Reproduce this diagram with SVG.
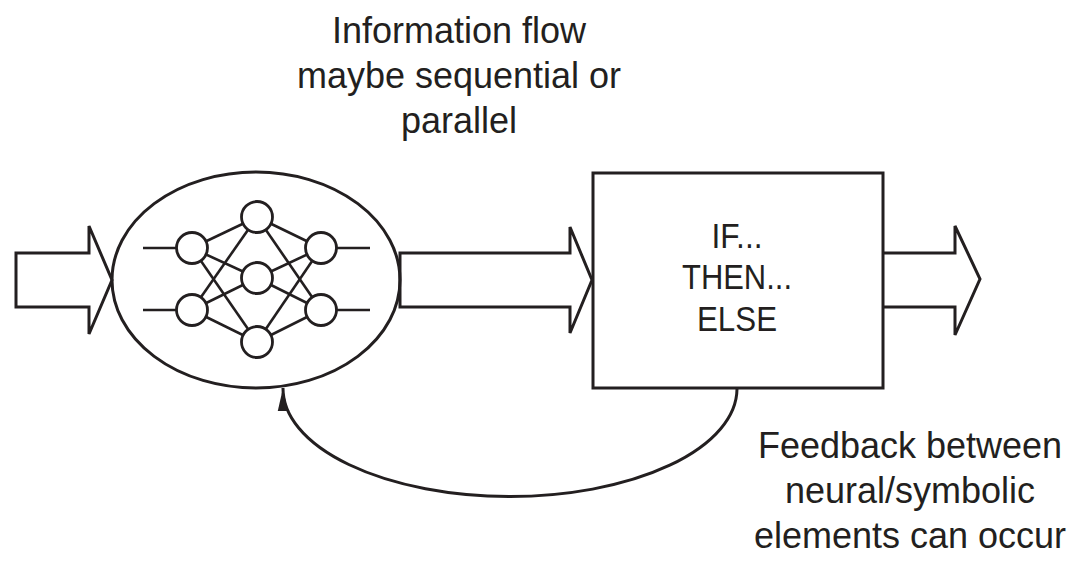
<svg xmlns="http://www.w3.org/2000/svg" width="1075" height="563" viewBox="0 0 1075 563">
<style>
.ln{fill:none;stroke:#231f20;stroke-width:3;stroke-linejoin:miter}
.nl{stroke:#231f20;stroke-width:2.6;fill:none}
.nc{fill:#fff;stroke:#231f20;stroke-width:2.8}
.bx{fill:#fff;stroke:#231f20;stroke-width:3}
.tx{font-family:"Liberation Sans",Arial,sans-serif;font-size:36px;fill:#231f20;text-anchor:middle}
.bt{font-family:"Liberation Sans",Arial,sans-serif;font-size:35px;fill:#231f20;text-anchor:middle}
</style>
<defs>
<marker id="ah" markerUnits="userSpaceOnUse" markerWidth="26" markerHeight="14" refX="23" refY="7" orient="auto">
<path d="M0,2 L23,7 L0,12 Z" fill="#231f20"/>
</marker>
</defs>
<rect width="1075" height="563" fill="#fff"/>

<g id="connectors">
<path id="arrow-in" class="ln" d="M16,253 L89,253 L89,226 L112,280 L89,334 L89,307 L16,307 Z"/>
<path id="arrow-mid" class="ln" d="M400,253 L570,253 L570,227 L592,280 L570,333 L570,307 L400,307 Z"/>
<path id="arrow-out" class="ln" d="M883,253 L955,253 L955,226 L980,279 L955,335 L955,307 L883,307"/>
<path id="feedback" class="ln" d="M737,389 A227,108 0 0 1 283,388" marker-end="url(#ah)"/>
</g>

<g id="neural">
<ellipse class="ln" cx="256" cy="280" rx="144" ry="108"/>
<g id="net-links">
<line class="nl" x1="143" y1="248" x2="192" y2="248"/>
<line class="nl" x1="143" y1="310" x2="192" y2="310"/>
<line class="nl" x1="321" y1="248" x2="370" y2="248"/>
<line class="nl" x1="321" y1="310" x2="370" y2="310"/>
<line class="nl" x1="192" y1="248" x2="257" y2="217"/>
<line class="nl" x1="192" y1="248" x2="257" y2="278"/>
<line class="nl" x1="192" y1="248" x2="257" y2="342"/>
<line class="nl" x1="192" y1="310" x2="257" y2="217"/>
<line class="nl" x1="192" y1="310" x2="257" y2="278"/>
<line class="nl" x1="192" y1="310" x2="257" y2="342"/>
<line class="nl" x1="257" y1="217" x2="321" y2="248"/>
<line class="nl" x1="257" y1="217" x2="321" y2="310"/>
<line class="nl" x1="257" y1="278" x2="321" y2="248"/>
<line class="nl" x1="257" y1="278" x2="321" y2="310"/>
<line class="nl" x1="257" y1="342" x2="321" y2="248"/>
<line class="nl" x1="257" y1="342" x2="321" y2="310"/>
</g>
<g id="net-nodes">
<circle class="nc" cx="192" cy="248" r="15.5"/>
<circle class="nc" cx="192" cy="310" r="15.5"/>
<circle class="nc" cx="257" cy="217" r="15.5"/>
<circle class="nc" cx="257" cy="278" r="15.5"/>
<circle class="nc" cx="257" cy="342" r="15.5"/>
<circle class="nc" cx="321" cy="248" r="15.5"/>
<circle class="nc" cx="321" cy="310" r="15.5"/>
</g>
</g>

<g id="rules">
<rect class="bx" x="593" y="173" width="290" height="215"/>
<text class="bt" x="737" y="248" textLength="51" lengthAdjust="spacingAndGlyphs">IF...</text>
<text class="bt" x="737" y="289" textLength="110" lengthAdjust="spacingAndGlyphs">THEN...</text>
<text class="bt" x="737" y="331" textLength="80" lengthAdjust="spacingAndGlyphs">ELSE</text>
</g>

<g id="label-flow">
<text class="tx" x="459" y="43">Information flow</text>
<text class="tx" x="459" y="88">maybe sequential or</text>
<text class="tx" x="459" y="133">parallel</text>
</g>

<g id="label-feedback">
<text class="tx" x="910" y="458">Feedback between</text>
<text class="tx" x="910" y="503">neural/symbolic</text>
<text class="tx" x="910" y="548">elements can occur</text>
</g>
</svg>
